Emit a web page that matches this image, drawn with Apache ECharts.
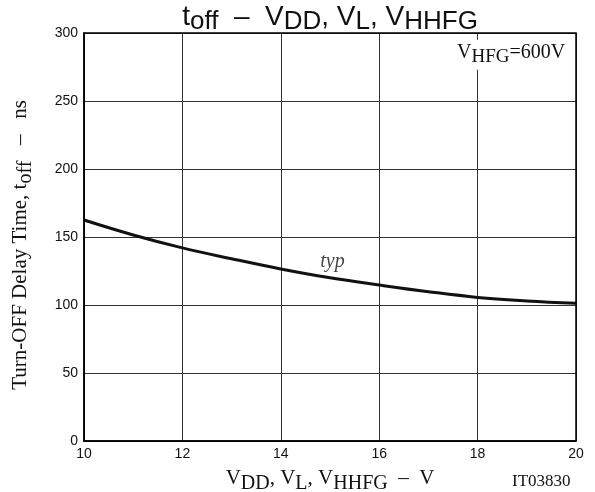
<!DOCTYPE html>
<html><head><meta charset="utf-8">
<script src="https://cdn.jsdelivr.net/npm/echarts@6/dist/echarts.min.js"></script>
<style>html,body{margin:0;padding:0;background:#fff}#c{width:595px;height:492px}</style>
</head><body><div id="c"></div>
<script>
const xValues = [10, 11, 12, 13, 14, 15, 16, 17, 18, 19, 20];
const toffTyp = [162.5, 151.5, 142, 134, 126.5, 120, 114.7, 109.8, 105.6, 103, 101.2];
const xTicks = [10, 12, 14, 16, 18, 20];
const yTicks = [0, 50, 100, 150, 200, 250, 300];
const typLabelPos = [15.05, 131.5];
const condLabelPos = [18.68, 284];

const serif = '"Liberation Serif", "DejaVu Serif", serif';
const sans = '"Liberation Sans", Arial, sans-serif';

function subRich(family, size, subSize, lh, shift) {
  return {
    b: {fontFamily: family, fontSize: size, fontWeight: 'normal', color: '#111', verticalAlign: 'top', lineHeight: lh, padding: [0, 0, shift, 0]},
    s: {fontFamily: family, fontSize: subSize, fontWeight: 'normal', color: '#111', verticalAlign: 'bottom', lineHeight: lh, padding: [shift, 0, 0, 0]}
  };
}

const chart = echarts.init(document.getElementById('c'), null, {renderer: 'canvas'});
chart.setOption({
  backgroundColor: '#fff',
  animation: false,
  title: {
    text: '{b|t}{s|off}{b|  –  V}{s|DD}{b|, V}{s|L}{b|, V}{s|HHFG}',
    left: 325, textAlign: 'center', top: -2,
    textStyle: {fontWeight: 'normal', rich: subRich(sans, 28, 26, 32, 5)}
  },
  grid: {left: 84, right: 19, top: 33, bottom: 51, containLabel: false, outerBoundsMode: 'none',
         show: true, borderColor: '#000', borderWidth: 1.5, backgroundColor: 'transparent', z: 10},
  xAxis: {
    type: 'value', min: 10, max: 20, interval: 2,
    axisLine: {show: true, onZero: false, lineStyle: {color: '#000', width: 1.5}},
    axisTick: {show: false},
    axisLabel: {fontFamily: sans, fontSize: 14, color: '#111', margin: 6},
    splitLine: {show: true, lineStyle: {color: '#333', width: 1}},
    name: '{b|V}{s|DD}{b|, V}{s|L}{b|, V}{s|HHFG}{b|  –  V}',
    nameLocation: 'middle', nameGap: 27,
    nameTextStyle: {rich: subRich(serif, 21, 20, 26, 5)}
  },
  yAxis: {
    type: 'value', min: 0, max: 300, interval: 50,
    axisLine: {show: true, onZero: false, lineStyle: {color: '#000', width: 1.5}},
    axisTick: {show: false},
    axisLabel: {fontFamily: sans, fontSize: 14, color: '#111', margin: 6},
    splitLine: {show: true, lineStyle: {color: '#333', width: 1}},
    name: '{b|Turn-OFF Delay Time, t}{s|off}{b|   –   ns   }',
    nameLocation: 'middle', nameGap: 48, nameRotate: 90,
    nameTextStyle: {rich: subRich(serif, 21, 20, 26, 5)}
  },
  graphic: [
    {type: 'text', left: 512, top: 473, style: {text: 'IT03830', font: '17px ' + serif, fill: '#111'}}
  ],
  series: [
    {
      type: 'line', data: xValues.map((x, i) => [x, toffTyp[i]]),
      smooth: 0.4, showSymbol: false, symbol: 'none',
      lineStyle: {color: '#111', width: 3}, z: 5,
      markPoint: {
        symbol: 'rect', symbolSize: 0,
        data: [{coord: condLabelPos}],
        label: {
          show: true, position: 'inside',
          formatter: '{b|V}{s|HFG}{b|=600V}',
          backgroundColor: '#fff', padding: [3, 2, 3, 2],
          rich: subRich(serif, 20, 19, 24, 5)
        }
      }
    },
    {
      type: 'scatter', data: [typLabelPos], symbolSize: 0,
      label: {show: true, position: 'inside', formatter: 'typ', fontFamily: serif, fontStyle: 'italic', fontSize: 20, color: '#111'}
    }
  ]
});
</script></body></html>
